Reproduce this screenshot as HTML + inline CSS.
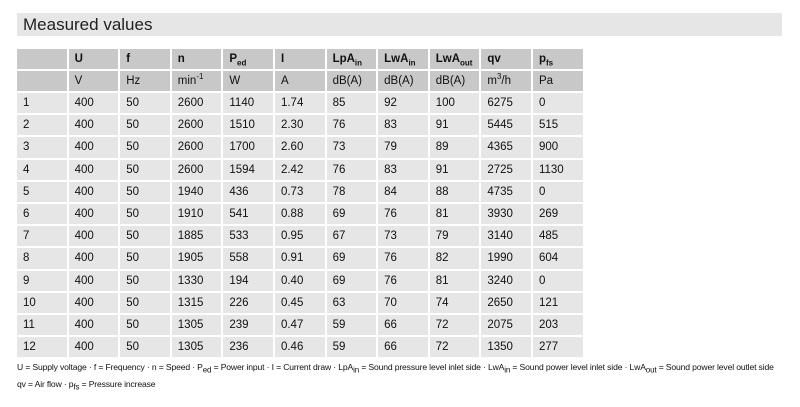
<!DOCTYPE html>
<html><head><meta charset="utf-8"><style>
body{margin:0;width:800px;height:407px;background:#fff;font-family:"Liberation Sans Narrow","Liberation Sans",Arial,sans-serif;color:#111;position:relative;overflow:hidden}
.t{position:absolute;left:17px;top:13px;width:765px;height:23px;background:#e6e6e6;font-family:"Liberation Sans",sans-serif;font-size:17px;line-height:23px;padding-left:6px;box-sizing:border-box;color:#222}
table{position:absolute;left:15px;top:47px;border-collapse:separate;border-spacing:2px;table-layout:fixed}
td{width:43.6px;padding:0 0 0 6px;height:20px;font-size:11.5px;background:#e6e6e6;white-space:nowrap;line-height:20px;overflow:hidden}
tr.d td{height:20.2px}
tr.h td{background:#c8c8c8}
tr.b td{font-weight:bold}
sub,sup{font-size:8px;line-height:0}
.f{position:absolute;left:17px;font-size:8.6px;letter-spacing:-0.15px;white-space:nowrap}
</style></head><body>
<div class="t">Measured values</div>
<table>
<tr class="h b"><td></td><td>U</td><td>f</td><td>n</td><td>P<sub>ed</sub></td><td>I</td><td>LpA<sub>in</sub></td><td>LwA<sub>in</sub></td><td>LwA<sub>out</sub></td><td>qv</td><td>p<sub>fs</sub></td></tr>
<tr class="h"><td></td><td>V</td><td>Hz</td><td>min<sup>-1</sup></td><td>W</td><td>A</td><td>dB(A)</td><td>dB(A)</td><td>dB(A)</td><td>m<sup>3</sup>/h</td><td>Pa</td></tr>
<tr class="d"><td>1</td><td>400</td><td>50</td><td>2600</td><td>1140</td><td>1.74</td><td>85</td><td>92</td><td>100</td><td>6275</td><td>0</td></tr>
<tr class="d"><td>2</td><td>400</td><td>50</td><td>2600</td><td>1510</td><td>2.30</td><td>76</td><td>83</td><td>91</td><td>5445</td><td>515</td></tr>
<tr class="d"><td>3</td><td>400</td><td>50</td><td>2600</td><td>1700</td><td>2.60</td><td>73</td><td>79</td><td>89</td><td>4365</td><td>900</td></tr>
<tr class="d"><td>4</td><td>400</td><td>50</td><td>2600</td><td>1594</td><td>2.42</td><td>76</td><td>83</td><td>91</td><td>2725</td><td>1130</td></tr>
<tr class="d"><td>5</td><td>400</td><td>50</td><td>1940</td><td>436</td><td>0.73</td><td>78</td><td>84</td><td>88</td><td>4735</td><td>0</td></tr>
<tr class="d"><td>6</td><td>400</td><td>50</td><td>1910</td><td>541</td><td>0.88</td><td>69</td><td>76</td><td>81</td><td>3930</td><td>269</td></tr>
<tr class="d"><td>7</td><td>400</td><td>50</td><td>1885</td><td>533</td><td>0.95</td><td>67</td><td>73</td><td>79</td><td>3140</td><td>485</td></tr>
<tr class="d"><td>8</td><td>400</td><td>50</td><td>1905</td><td>558</td><td>0.91</td><td>69</td><td>76</td><td>82</td><td>1990</td><td>604</td></tr>
<tr class="d"><td>9</td><td>400</td><td>50</td><td>1330</td><td>194</td><td>0.40</td><td>69</td><td>76</td><td>81</td><td>3240</td><td>0</td></tr>
<tr class="d"><td>10</td><td>400</td><td>50</td><td>1315</td><td>226</td><td>0.45</td><td>63</td><td>70</td><td>74</td><td>2650</td><td>121</td></tr>
<tr class="d"><td>11</td><td>400</td><td>50</td><td>1305</td><td>239</td><td>0.47</td><td>59</td><td>66</td><td>72</td><td>2075</td><td>203</td></tr>
<tr class="d"><td>12</td><td>400</td><td>50</td><td>1305</td><td>236</td><td>0.46</td><td>59</td><td>66</td><td>72</td><td>1350</td><td>277</td></tr>
</table>
<div class="f" style="top:362px">U = Supply voltage · f = Frequency · n = Speed · P<sub>ed</sub> = Power input · I = Current draw · LpA<sub>in</sub> = Sound pressure level inlet side · LwA<sub>in</sub> = Sound power level inlet side · LwA<sub>out</sub> = Sound power level outlet side</div>
<div class="f" style="top:379px">qv = Air flow · p<sub>fs</sub> = Pressure increase</div>
</body></html>
